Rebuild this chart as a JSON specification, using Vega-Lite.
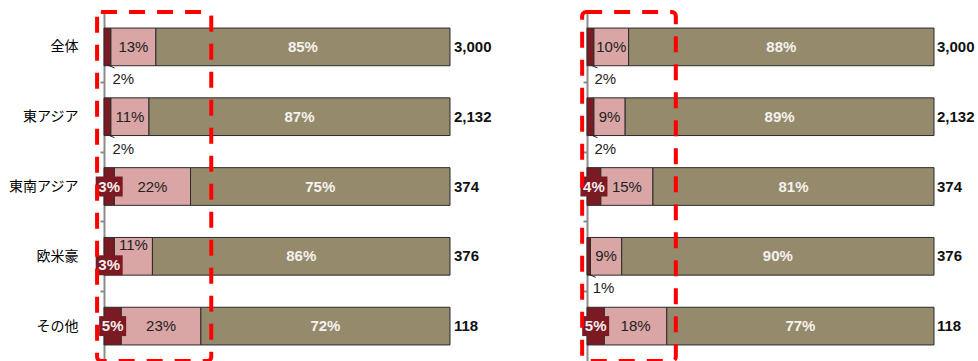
{
  "$schema": "https://vega.github.io/schema/vega-lite/v6.json",
  "padding": {"left": 8, "top": 10, "right": 0, "bottom": 0},
  "background": "white",
  "config": {"view": {"stroke": null}},
  "datasets": {
    "main": [
      {"panel": "L", "cat": "全体", "seg": "A", "order": 1, "value": 2, "n": 3000},
      {"panel": "L", "cat": "全体", "seg": "B", "order": 2, "value": 13, "n": 3000},
      {"panel": "L", "cat": "全体", "seg": "C", "order": 3, "value": 85, "n": 3000},
      {"panel": "L", "cat": "東アジア", "seg": "A", "order": 1, "value": 2, "n": 2132},
      {"panel": "L", "cat": "東アジア", "seg": "B", "order": 2, "value": 11, "n": 2132},
      {"panel": "L", "cat": "東アジア", "seg": "C", "order": 3, "value": 87, "n": 2132},
      {"panel": "L", "cat": "東南アジア", "seg": "A", "order": 1, "value": 3, "n": 374},
      {"panel": "L", "cat": "東南アジア", "seg": "B", "order": 2, "value": 22, "n": 374},
      {"panel": "L", "cat": "東南アジア", "seg": "C", "order": 3, "value": 75, "n": 374},
      {"panel": "L", "cat": "欧米豪", "seg": "A", "order": 1, "value": 3, "n": 376},
      {"panel": "L", "cat": "欧米豪", "seg": "B", "order": 2, "value": 11, "n": 376},
      {"panel": "L", "cat": "欧米豪", "seg": "C", "order": 3, "value": 86, "n": 376},
      {"panel": "L", "cat": "その他", "seg": "A", "order": 1, "value": 5, "n": 118},
      {"panel": "L", "cat": "その他", "seg": "B", "order": 2, "value": 23, "n": 118},
      {"panel": "L", "cat": "その他", "seg": "C", "order": 3, "value": 72, "n": 118},
      {"panel": "R", "cat": "全体", "seg": "A", "order": 1, "value": 2, "n": 3000},
      {"panel": "R", "cat": "全体", "seg": "B", "order": 2, "value": 10, "n": 3000},
      {"panel": "R", "cat": "全体", "seg": "C", "order": 3, "value": 88, "n": 3000},
      {"panel": "R", "cat": "東アジア", "seg": "A", "order": 1, "value": 2, "n": 2132},
      {"panel": "R", "cat": "東アジア", "seg": "B", "order": 2, "value": 9, "n": 2132},
      {"panel": "R", "cat": "東アジア", "seg": "C", "order": 3, "value": 89, "n": 2132},
      {"panel": "R", "cat": "東南アジア", "seg": "A", "order": 1, "value": 4, "n": 374},
      {"panel": "R", "cat": "東南アジア", "seg": "B", "order": 2, "value": 15, "n": 374},
      {"panel": "R", "cat": "東南アジア", "seg": "C", "order": 3, "value": 81, "n": 374},
      {"panel": "R", "cat": "欧米豪", "seg": "A", "order": 1, "value": 1, "n": 376},
      {"panel": "R", "cat": "欧米豪", "seg": "B", "order": 2, "value": 9, "n": 376},
      {"panel": "R", "cat": "欧米豪", "seg": "C", "order": 3, "value": 90, "n": 376},
      {"panel": "R", "cat": "その他", "seg": "A", "order": 1, "value": 5, "n": 118},
      {"panel": "R", "cat": "その他", "seg": "B", "order": 2, "value": 18, "n": 118},
      {"panel": "R", "cat": "その他", "seg": "C", "order": 3, "value": 77, "n": 118}
    ],
    "box": [{"k": 1}]
  },
  "spacing": 137,
  "bounds": "flush",
  "hconcat": [
    {
      "width": 346,
      "height": 349,
      "layer": [
        {
          "data": {"name": "main"},
          "transform": [
            {"filter": "datum.panel == 'L'"},
            {"stack": "value", "groupby": ["cat"], "sort": [{"field": "order"}], "as": ["v0", "v1"]},
            {"calculate": "(datum.v0 + datum.v1) / 2", "as": "mid"},
            {"calculate": "datum.value + '%'", "as": "lbl"}
          ],
          "layer": [
            {
              "mark": {"type": "bar", "stroke": "#2b2b2b", "strokeWidth": 1},
              "encoding": {
                "y": {"field": "cat", "type": "nominal", "sort": ["全体", "東アジア", "東南アジア", "欧米豪", "その他"],
                  "scale": {"paddingInner": 0.46, "paddingOuter": 0.23},
                  "axis": {"title": null, "labelFont": "Noto Sans CJK JP", "labelFontSize": 14, "labelColor": "#000", "domainColor": "#8c8c8c", "domainWidth": 2, "tickColor": "#8c8c8c", "tickWidth": 2, "tickSize": 4, "labelPadding": 22, "tickOffset": -35, "labelOffset": 35}},
                "x": {"field": "v0", "type": "quantitative", "scale": {"domain": [0, 100], "nice": false}, "axis": null},
                "x2": {"field": "v1"},
                "color": {"field": "seg", "type": "nominal", "scale": {"domain": ["A", "B", "C"], "range": ["#7c1a24", "#d9a5a5", "#968a6c"]}, "legend": null}
              }
            },
            {
              "transform": [{"filter": "datum.seg == 'B' && !(datum.cat == '欧米豪')"}],
              "mark": {"type": "text", "font": "Liberation Sans", "fontSize": 15, "color": "#222"},
              "encoding": {
                "y": {"field": "cat", "type": "nominal", "sort": ["全体", "東アジア", "東南アジア", "欧米豪", "その他"]},
                "x": {"field": "mid", "type": "quantitative"},
                "text": {"field": "lbl"}
              }
            },
            {
              "transform": [{"filter": "datum.seg == 'B' && datum.cat == '欧米豪'"}],
              "mark": {"type": "text", "font": "Liberation Sans", "fontSize": 15, "color": "#222", "yOffset": -11},
              "encoding": {
                "y": {"field": "cat", "type": "nominal", "sort": ["全体", "東アジア", "東南アジア", "欧米豪", "その他"]},
                "x": {"field": "mid", "type": "quantitative"},
                "text": {"field": "lbl"}
              }
            },
            {
              "transform": [{"filter": "datum.seg == 'C'"}],
              "mark": {"type": "text", "font": "Liberation Sans", "fontSize": 15, "fontWeight": "bold", "color": "#f4f2ee"},
              "encoding": {
                "y": {"field": "cat", "type": "nominal", "sort": ["全体", "東アジア", "東南アジア", "欧米豪", "その他"]},
                "x": {"field": "mid", "type": "quantitative"},
                "text": {"field": "lbl"}
              }
            },
            {
              "transform": [{"filter": "datum.seg == 'A' && datum.value >= 3 && datum.cat != '欧米豪'"}],
              "layer": [
                {
                  "mark": {"type": "point", "shape": "M-1,-0.74H1V0.74H-1Z", "size": 729, "filled": true, "color": "#7c1a24", "opacity": 1},
                  "encoding": {
                    "y": {"field": "cat", "type": "nominal", "sort": ["全体", "東アジア", "東南アジア", "欧米豪", "その他"]},
                    "x": {"field": "mid", "type": "quantitative"}
                  }
                },
                {
                  "mark": {"type": "text", "font": "Liberation Sans", "fontSize": 15, "fontWeight": "bold", "color": "#f4eeee"},
                  "encoding": {
                    "y": {"field": "cat", "type": "nominal", "sort": ["全体", "東アジア", "東南アジア", "欧米豪", "その他"]},
                    "x": {"field": "mid", "type": "quantitative"},
                    "text": {"field": "lbl"}
                  }
                }
              ]
            },
            {
              "transform": [{"filter": "datum.seg == 'A' && datum.value >= 3 && datum.cat == '欧米豪'"}],
              "layer": [
                {
                  "mark": {"type": "point", "shape": "M-1,-0.74H1V0.74H-1Z", "size": 729, "filled": true, "color": "#7c1a24", "opacity": 1, "yOffset": 9},
                  "encoding": {
                    "y": {"field": "cat", "type": "nominal", "sort": ["全体", "東アジア", "東南アジア", "欧米豪", "その他"]},
                    "x": {"field": "mid", "type": "quantitative"}
                  }
                },
                {
                  "mark": {"type": "text", "font": "Liberation Sans", "fontSize": 15, "fontWeight": "bold", "color": "#f4eeee", "yOffset": 9},
                  "encoding": {
                    "y": {"field": "cat", "type": "nominal", "sort": ["全体", "東アジア", "東南アジア", "欧米豪", "その他"]},
                    "x": {"field": "mid", "type": "quantitative"},
                    "text": {"field": "lbl"}
                  }
                }
              ]
            },
            {
              "transform": [{"filter": "datum.seg == 'A' && datum.value <= 2"}],
              "layer": [
                {
                  "mark": {"type": "rule", "color": "#222", "strokeWidth": 1, "yOffset": 18, "y2Offset": 21, "x2Offset": 7},
                  "encoding": {
                    "y": {"field": "cat", "type": "nominal", "sort": ["全体", "東アジア", "東南アジア", "欧米豪", "その他"]},
                    "y2": {"field": "cat"},
                    "x": {"field": "mid", "type": "quantitative"},
                    "x2": {"field": "mid"}
                  }
                },
                {
                  "mark": {"type": "text", "font": "Liberation Sans", "fontSize": 15, "color": "#222", "align": "left", "dx": 5, "yOffset": 32},
                  "encoding": {
                    "y": {"field": "cat", "type": "nominal", "sort": ["全体", "東アジア", "東南アジア", "欧米豪", "その他"]},
                    "x": {"field": "mid", "type": "quantitative"},
                    "text": {"field": "lbl"}
                  }
                }
              ]
            },
            {
              "transform": [{"filter": "datum.seg == 'C'"}],
              "mark": {"type": "text", "font": "Liberation Sans", "fontSize": 15, "fontWeight": "bold", "color": "#111", "align": "left", "dx": 4},
              "encoding": {
                "y": {"field": "cat", "type": "nominal", "sort": ["全体", "東アジア", "東南アジア", "欧米豪", "その他"]},
                "x": {"datum": 100, "type": "quantitative"},
                "text": {"field": "n", "type": "quantitative", "format": ","}
              }
            }
          ]
        },
        {
          "data": {"name": "box"},
          "mark": {"type": "rect", "fill": null, "filled": false, "stroke": "#ff0000", "strokeWidth": 4, "strokeDash": [16, 12], "cornerRadius": 4},
          "encoding": {
            "x": {"datum": -2, "type": "quantitative"},
            "x2": {"datum": 31}
          }
        }
      ]
    },
    {
      "width": 347,
      "height": 349,
      "layer": [
        {
          "data": {"name": "main"},
          "transform": [
            {"filter": "datum.panel == 'R'"},
            {"stack": "value", "groupby": ["cat"], "sort": [{"field": "order"}], "as": ["v0", "v1"]},
            {"calculate": "(datum.v0 + datum.v1) / 2", "as": "mid"},
            {"calculate": "datum.value + '%'", "as": "lbl"}
          ],
          "layer": [
            {
              "mark": {"type": "bar", "stroke": "#2b2b2b", "strokeWidth": 1},
              "encoding": {
                "y": {"field": "cat", "type": "nominal", "sort": ["全体", "東アジア", "東南アジア", "欧米豪", "その他"],
                  "scale": {"paddingInner": 0.46, "paddingOuter": 0.23},
                  "axis": {"title": null, "labels": false, "domainColor": "#8c8c8c", "domainWidth": 2, "tickColor": "#8c8c8c", "tickWidth": 2, "tickSize": 4, "tickOffset": -35}},
                "x": {"field": "v0", "type": "quantitative", "scale": {"domain": [0, 100], "nice": false}, "axis": null},
                "x2": {"field": "v1"},
                "color": {"field": "seg", "type": "nominal", "scale": {"domain": ["A", "B", "C"], "range": ["#7c1a24", "#d9a5a5", "#968a6c"]}, "legend": null}
              }
            },
            {
              "transform": [{"filter": "datum.seg == 'B'"}],
              "mark": {"type": "text", "font": "Liberation Sans", "fontSize": 15, "color": "#222"},
              "encoding": {
                "y": {"field": "cat", "type": "nominal", "sort": ["全体", "東アジア", "東南アジア", "欧米豪", "その他"]},
                "x": {"field": "mid", "type": "quantitative"},
                "text": {"field": "lbl"}
              }
            },
            {
              "transform": [{"filter": "datum.seg == 'C'"}],
              "mark": {"type": "text", "font": "Liberation Sans", "fontSize": 15, "fontWeight": "bold", "color": "#f4f2ee"},
              "encoding": {
                "y": {"field": "cat", "type": "nominal", "sort": ["全体", "東アジア", "東南アジア", "欧米豪", "その他"]},
                "x": {"field": "mid", "type": "quantitative"},
                "text": {"field": "lbl"}
              }
            },
            {
              "transform": [{"filter": "datum.seg == 'A' && datum.value >= 3"}],
              "layer": [
                {
                  "mark": {"type": "point", "shape": "M-1,-0.74H1V0.74H-1Z", "size": 729, "filled": true, "color": "#7c1a24", "opacity": 1},
                  "encoding": {
                    "y": {"field": "cat", "type": "nominal", "sort": ["全体", "東アジア", "東南アジア", "欧米豪", "その他"]},
                    "x": {"field": "mid", "type": "quantitative"}
                  }
                },
                {
                  "mark": {"type": "text", "font": "Liberation Sans", "fontSize": 15, "fontWeight": "bold", "color": "#f4eeee"},
                  "encoding": {
                    "y": {"field": "cat", "type": "nominal", "sort": ["全体", "東アジア", "東南アジア", "欧米豪", "その他"]},
                    "x": {"field": "mid", "type": "quantitative"},
                    "text": {"field": "lbl"}
                  }
                }
              ]
            },
            {
              "transform": [{"filter": "datum.seg == 'A' && datum.value <= 2"}],
              "layer": [
                {
                  "mark": {"type": "rule", "color": "#222", "strokeWidth": 1, "yOffset": 18, "y2Offset": 21, "x2Offset": 7},
                  "encoding": {
                    "y": {"field": "cat", "type": "nominal", "sort": ["全体", "東アジア", "東南アジア", "欧米豪", "その他"]},
                    "y2": {"field": "cat"},
                    "x": {"field": "mid", "type": "quantitative"},
                    "x2": {"field": "mid"}
                  }
                },
                {
                  "mark": {"type": "text", "font": "Liberation Sans", "fontSize": 15, "color": "#222", "align": "left", "dx": 4, "yOffset": 32},
                  "encoding": {
                    "y": {"field": "cat", "type": "nominal", "sort": ["全体", "東アジア", "東南アジア", "欧米豪", "その他"]},
                    "x": {"field": "mid", "type": "quantitative"},
                    "text": {"field": "lbl"}
                  }
                }
              ]
            },
            {
              "transform": [{"filter": "datum.seg == 'C'"}],
              "mark": {"type": "text", "font": "Liberation Sans", "fontSize": 15, "fontWeight": "bold", "color": "#111", "align": "left", "dx": 3},
              "encoding": {
                "y": {"field": "cat", "type": "nominal", "sort": ["全体", "東アジア", "東南アジア", "欧米豪", "その他"]},
                "x": {"datum": 100, "type": "quantitative"},
                "text": {"field": "n", "type": "quantitative", "format": ","}
              }
            }
          ]
        },
        {
          "data": {"name": "box"},
          "mark": {"type": "rect", "fill": null, "filled": false, "stroke": "#ff0000", "strokeWidth": 4, "strokeDash": [16, 12], "cornerRadius": 4},
          "encoding": {
            "x": {"datum": -1.4, "type": "quantitative"},
            "x2": {"datum": 25.6}
          }
        }
      ]
    }
  ]
}
